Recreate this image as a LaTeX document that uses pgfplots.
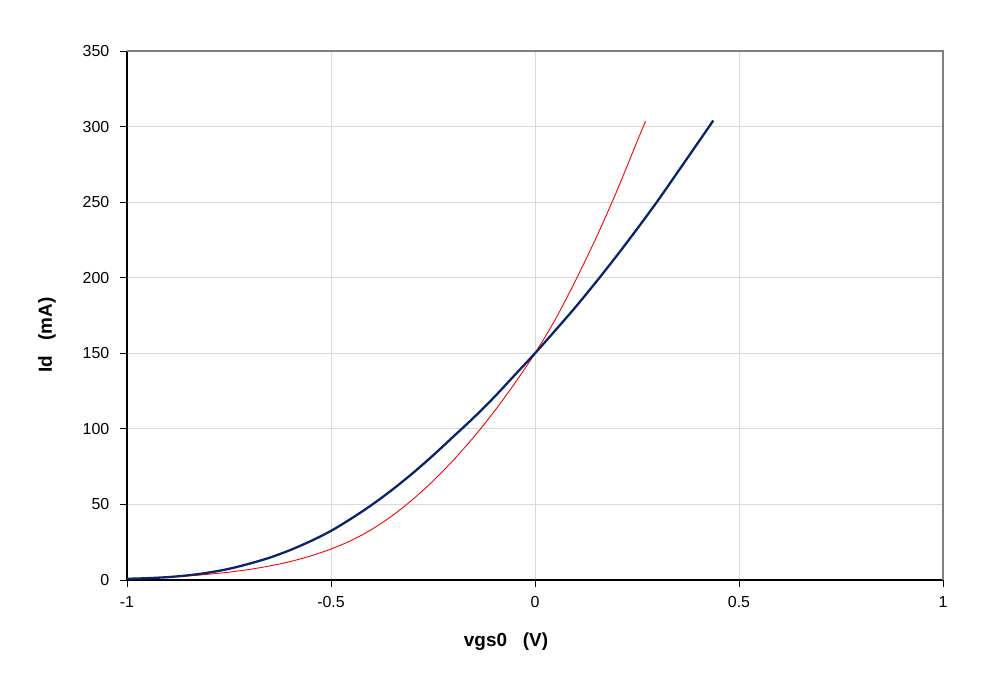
\documentclass[border=0pt]{standalone}
\usepackage{fontspec}
\setmainfont{Liberation Sans}
\usepackage{pgfplots}
\pgfplotsset{compat=1.18}
\definecolor{navyline}{RGB}{10,36,106}
\definecolor{gridgray}{RGB}{217,217,217}
\definecolor{framegray}{RGB}{128,128,128}
\begin{document}
\begin{tikzpicture}
\useasboundingbox (0,0) rectangle (1000bp,676bp);
\begin{axis}[
  at={(127bp,96bp)}, anchor=south west,
  scale only axis, width=816bp, height=529bp,
  xmin=-1, xmax=1, ymin=0, ymax=350,
  xtick={-1,-0.5,0,0.5,1},
  ytick={0,50,100,150,200,250,300,350},
  axis x line*=bottom, axis y line*=left,
  axis line style={black, line width=1.4bp},
  grid=major,
  grid style={gridgray, line width=0.8bp},
  tick align=outside,
  major tick length=7bp,
  tick style={black, line width=0.8bp},
  /pgf/number format/assume math mode=true,
  ticklabel style={font=\fontsize{16}{19}\selectfont},
  xticklabel style={anchor=north, inner sep=0pt, yshift=-9.5bp},
  yticklabel style={anchor=east, inner sep=0pt, xshift=-10.5bp},
  xlabel={vgs0\ \ \ (V)},
  ylabel={Id\ \ \ (mA)},
  label style={font=\fontsize{19}{22}\selectfont\bfseries},
  xlabel style={at={(axis description cs:0.4645,-0.117)}, anchor=center},
  ylabel style={at={(axis description cs:-0.098,0.463)}, anchor=center, rotate=0},
  clip=false,
]
\draw[framegray, line width=1.6bp] (rel axis cs:0,1) -- (rel axis cs:1,1) -- (rel axis cs:1,0);
% red series
\addplot[red, line width=0.9bp, smooth] coordinates {
(-1.00,0.7) (-0.95,1.2) (-0.90,1.9) (-0.85,2.7) (-0.80,3.8) (-0.75,5.2)
(-0.70,7.0) (-0.65,9.3) (-0.60,12.2) (-0.55,15.9) (-0.50,20.5) (-0.45,26.2)
(-0.40,33.5) (-0.35,42.5) (-0.30,53.2) (-0.25,65.5) (-0.20,79.3) (-0.15,94.6)
(-0.10,111.5) (-0.05,130.0) (0.00,150.0) (0.05,172.5) (0.10,198.5) (0.15,226.5)
(0.20,257.0) (0.25,290.0) (0.271,303.5)
};
% blue series
\addplot[navyline, line width=2.3bp, smooth] coordinates {
(-1.00,0.8) (-0.95,1.2) (-0.90,1.9) (-0.85,3.1) (-0.80,4.9) (-0.75,7.4)
(-0.70,10.8) (-0.65,14.8) (-0.60,19.8) (-0.55,25.7) (-0.50,32.5) (-0.45,40.7)
(-0.40,49.7) (-0.35,59.7) (-0.30,70.6) (-0.25,82.4) (-0.20,94.9) (-0.15,107.5)
(-0.10,121.0) (-0.05,135.5) (0.00,150.0) (0.05,165.2) (0.10,180.8) (0.15,197.3)
(0.20,214.4) (0.25,232.2) (0.30,250.6) (0.35,270.0) (0.40,289.5) (0.437,304.0)
};
\end{axis}
\end{tikzpicture}
\end{document}
